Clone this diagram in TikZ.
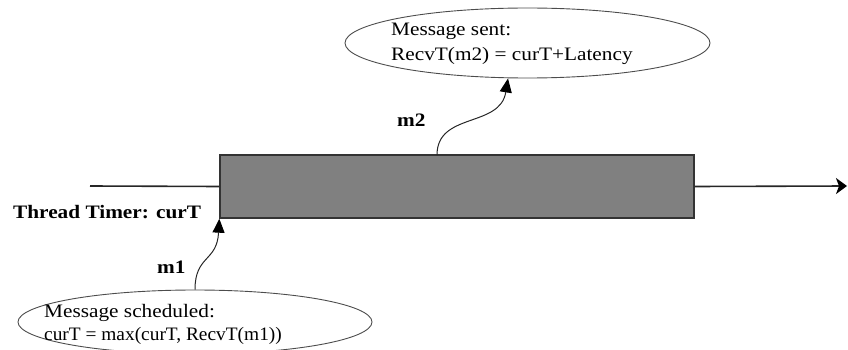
\documentclass[tikz,border=0pt]{standalone}
\usepackage{fontspec}
\setmainfont{Liberation Serif}
\newfontfamily\wideserif[FakeStretch=1.12]{Liberation Serif}
\newfontfamily\plainserif[FakeStretch=1.02]{Liberation Serif}
\usetikzlibrary{arrows.meta,shapes.geometric}
\begin{document}
\begin{tikzpicture}[x=1pt,y=-1pt,
  bubble/.style={draw=black!70,ellipse,line width=0.9pt,inner sep=0pt},
  note/.style={align=left,anchor=north west,inner sep=0pt},
  tag/.style={font=\wideserif\fontsize{19}{21}\selectfont\bfseries,inner sep=0pt,anchor=base west},
  msg/.style={draw=black!85,line width=1pt,-{Triangle[length=14pt,width=12pt,color=black]}},
  timeline/.style={draw=black!85,line width=1.6pt}]
\useasboundingbox (0,0) rectangle (848,350);
% execution block on the thread's timeline
\node[draw=black!80,fill=black!50,line width=1.4pt,minimum width=474pt,minimum height=63pt,inner sep=0pt] (bar) at (457,186.5) {};
\coordinate (tstart) at (90,186);
\coordinate (tend) at (847,186);
\draw[timeline] (tstart) -- (bar.west);
\draw[timeline,-{Stealth[length=11pt,width=16pt,inset=3pt,color=black]}] (bar.east) -- (tend);
\node[tag] (timer) at (13,218) {Thread Timer: curT};
% outgoing message
\node[bubble,minimum width=365pt,minimum height=70pt] (sent) at (527.5,43) {};
\node[note,font=\wideserif\fontsize{19}{25}\selectfont] (senttxt) at (391,22.5) {Message sent:\\RecvT(m2) = curT+Latency};
\coordinate (m2src) at (437,155);
\draw[msg] (m2src) .. controls (437,112) and (500,128) .. (sent.south -| 508,0);
\node[tag] (m2) at (397,127) {m2};
% incoming message
\node[bubble,minimum width=354pt,minimum height=64pt] (sched) at (195,322) {};
\node[note,font=\wideserif\fontsize{19}{23}\selectfont] (schedtxt) at (44,304) {Message scheduled:\\{\plainserif curT = max(curT, RecvT(m1))}};
\draw[msg] (sched.north) .. controls (195,255) and (217,262) .. (bar.south west);
\node[tag] (m1) at (157,273) {m1};
\end{tikzpicture}
\end{document}
